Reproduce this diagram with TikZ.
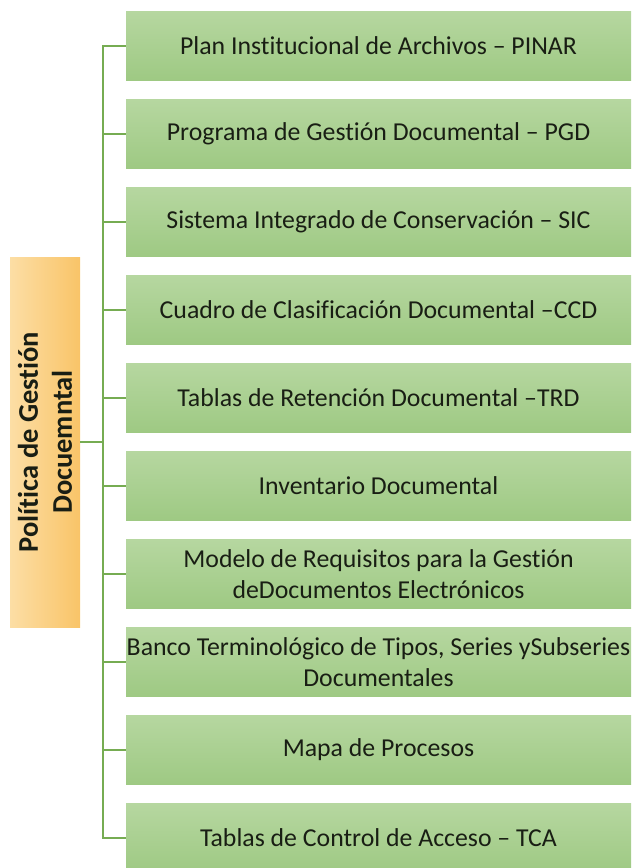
\documentclass[tikz,border=0pt]{standalone}
\usepackage{fontspec}
\setmainfont[Ligatures={NoCommon}]{Carlito}
\definecolor{gtop}{RGB}{182,215,160}
\definecolor{gbot}{RGB}{158,201,131}
\definecolor{oleft}{RGB}{252,222,165}
\definecolor{oright}{RGB}{249,196,104}
\definecolor{conncol}{RGB}{118,172,82}
\definecolor{txt}{RGB}{25,30,20}
\tikzset{
  gbox/.style={minimum width=505pt, minimum height=69pt, inner sep=0pt,
    top color=gtop, bottom color=gbot, draw=none, align=center, text=txt,
    font=\fontsize{25.8}{31}\selectfont},
  obox/.style={minimum width=70pt, minimum height=370pt, inner sep=0pt,
    left color=oleft, right color=oright, draw=none},
  conn/.style={draw=conncol, line width=2.4pt}
}
\begin{document}
\begin{tikzpicture}[x=1pt,y=-1pt]
\path[use as bounding box] (0,0) rectangle (635,868);
\clip (0,0) rectangle (635,868);
\node[obox] (o) at (45,442) {};
\node[rotate=90, align=center, text=txt, font=\bfseries\fontsize{28.5}{34}\selectfont] (ot) at (o.center) {Política de Gestión\\Docuemntal};
\node[gbox] (b1) at (378.5,46) {Plan Institucional de Archivos -- PINAR};
\node[gbox] (b2) at (378.5,134) {Programa de Gestión Documental -- PGD};
\node[gbox] (b3) at (378.5,222) {Sistema Integrado de Conservación -- SIC};
\node[gbox] (b4) at (378.5,310) {Cuadro de Clasificación Documental --CCD};
\node[gbox] (b5) at (378.5,398) {Tablas de Retención Documental --TRD};
\node[gbox] (b6) at (378.5,486) {Inventario Documental};
\node[gbox] (b7) at (378.5,574) {Modelo de Requisitos para la Gestión\\deDocumentos Electrónicos};
\node[gbox] (b8) at (378.5,662) {Banco Terminológico de Tipos, Series ySubseries\\Documentales};
\node[gbox] (b9) at (378.5,750) {Mapa de Procesos};
\node[gbox] (b10) at (378.5,838) {Tablas de Control de Acceso -- TCA};
\draw[conn] (o.east) -- ++(23,0) coordinate (j);
\foreach \i in {1,...,10} {
  \draw[conn] (j) |- (b\i.west);
}
\end{tikzpicture}
\end{document}
